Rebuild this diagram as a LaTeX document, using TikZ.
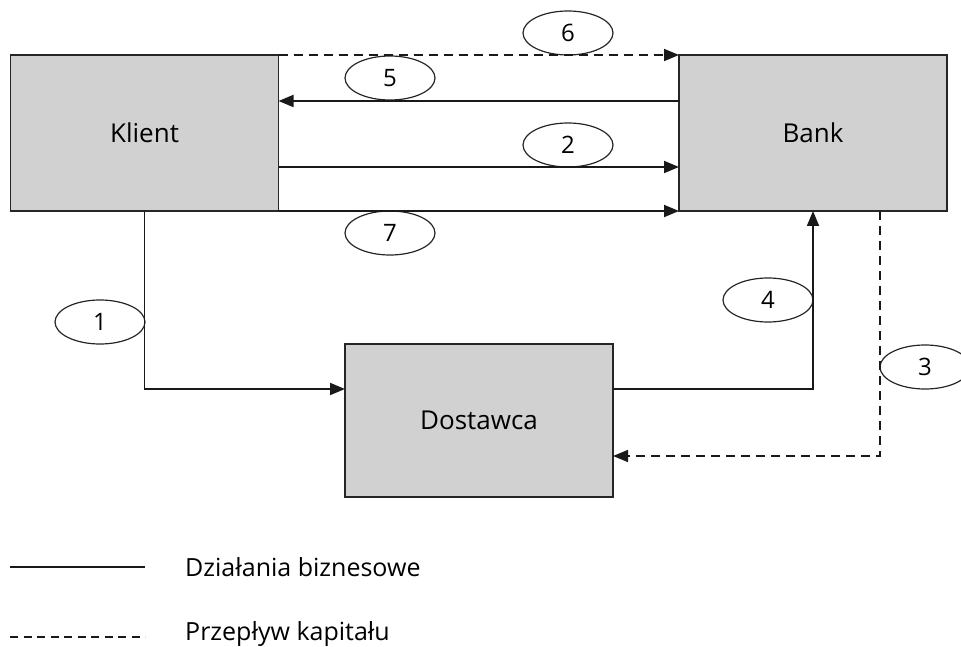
\documentclass[tikz,border=0pt]{standalone}
\usepackage{fontspec}
\setmainfont{Open Sans}
\usetikzlibrary{arrows.meta,shapes.geometric}

\tikzstyle{party}=[rectangle,draw=black!85,fill=black!18,line width=1.3pt,minimum width=268pt,inner sep=0pt,outer sep=0pt,font=\fontsize{26}{30}\selectfont]
\tikzstyle{num}=[ellipse,draw=black!85,line width=1.2pt,minimum width=90pt,minimum height=44pt,inner sep=0pt,font=\fontsize{24}{28}\selectfont]
\tikzstyle{business}=[draw=black!90,line width=1.8pt,-{Triangle[length=15pt,width=12pt]}]
\tikzstyle{capital}=[business,dash pattern=on 9pt off 6pt]
\tikzstyle{legend text}=[anchor=west,inner sep=0pt,font=\fontsize{25}{29}\selectfont]

\begin{document}
\begin{tikzpicture}[x=1pt,y=-1pt]
    \useasboundingbox (0,0) rectangle (961,647);
    % Draw the parties
    \foreach \pos/\name/\txt/\h in {{(144.5,133)/Klient/Klient/156},{(813,133)/Bank/Bank/156},
        {(479,420.5)/Dostawca/Dostawca/153}}
    \node[party,minimum height=\h pt] (\name) at \pos {\txt};
    % Numbered steps
    \foreach \pos/\name in {{(100,322)/1},{(568,145)/2},{(925,367)/3},{(768,300)/4},
        {(390,78)/5},{(568,33)/6},{(390,233)/7}}
    \node[num] (N\name) at \pos {\name};
    % Flows between Klient and Bank
    \path[capital] (Klient.north east) -- (Bank.north west);
    \path[business] ([yshift=-46pt]Bank.north west) -- ([yshift=-46pt]Klient.north east);
    \path[business] ([yshift=-112pt]Klient.north east) -- ([yshift=-112pt]Bank.north west);
    \path[business] (Klient.south east) -- (Bank.south west);
    % Flows through Dostawca
    \path[business] (Klient.south) |- ([yshift=-45pt]Dostawca.north west);
    \path[business] ([yshift=-45pt]Dostawca.north east) -| (Bank.south);
    \path[capital,line width=1.4pt] ([xshift=67pt]Bank.south) |- ([yshift=-112pt]Dostawca.north east);
    % Legend
    \coordinate (L1a) at (10,567);
    \coordinate (L1b) at (145,567);
    \coordinate (L2a) at (10,637);
    \coordinate (L2b) at (145,637);
    \draw[draw=black!90,line width=1.6pt] (L1a) -- (L1b);
    \draw[draw=black!90,line width=1.4pt,dash pattern=on 8pt off 5.5pt] (L2a) -- (L2b);
    \node[legend text] (Lbiz) at (185,567) {Działania biznesowe};
    \node[legend text] (Lcap) at (185,634) {Przepływ kapitału};
\end{tikzpicture}
\end{document}
